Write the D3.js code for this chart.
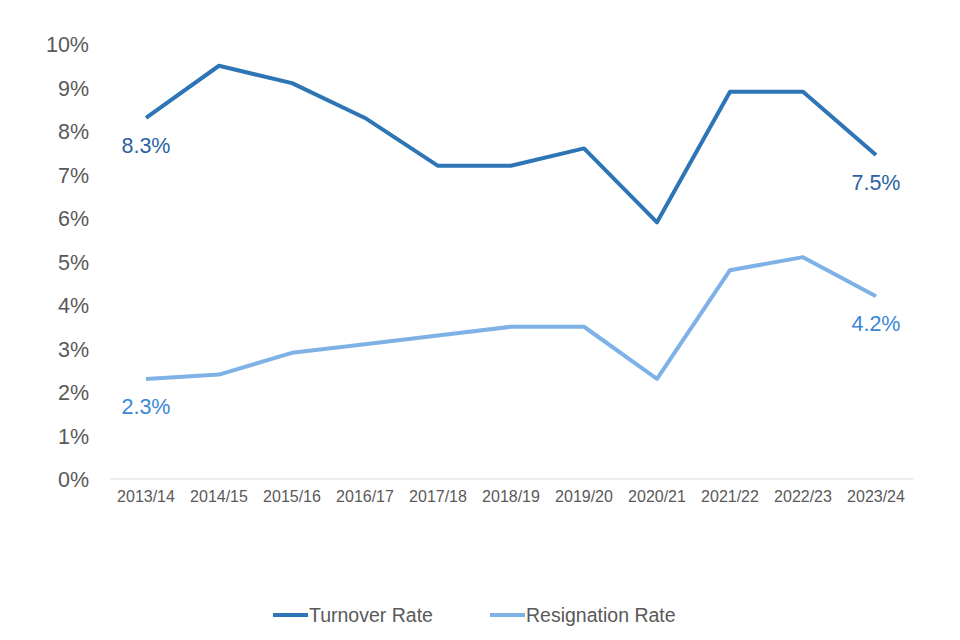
<!DOCTYPE html>
<html><head><meta charset="utf-8">
<script src="https://cdn.jsdelivr.net/npm/d3@7"></script>
<style>body{margin:0;background:#fff;} svg{display:block;}</style>
</head><body>
<svg id="c" width="960" height="640"></svg>
<script>
const categories = ["2013/14","2014/15","2015/16","2016/17","2017/18","2018/19","2019/20","2020/21","2021/22","2022/23","2023/24"];
const turnover = [8.3, 9.5, 9.1, 8.3, 7.2, 7.2, 7.6, 5.9, 8.9, 8.9, 7.45];
const resignation = [2.3, 2.4, 2.9, 3.1, 3.3, 3.5, 3.5, 2.3, 4.8, 5.1, 4.2];
const yTicks = [0,1,2,3,4,5,6,7,8,9,10];
const seriesNames = ["Turnover Rate","Resignation Rate"];

const svg = d3.select("#c");
const font = "'Liberation Sans', Arial, sans-serif";
const x = d3.scaleBand().domain(categories).range([109.5, 912.5]);
const y = d3.scaleLinear().domain([0,10]).range([479, 44]);
const cx = d => x(d) + x.bandwidth()/2;

// y axis labels
const yAxis = d3.axisLeft(y).tickValues(yTicks).tickFormat(d => d + "%").tickSize(0).tickPadding(0);
const gy = svg.append("g").attr("transform","translate(89,0)").call(yAxis);
gy.select(".domain").remove();
gy.selectAll("text").attr("font-family",font).attr("font-size",21.5).attr("fill","#595959").attr("dy","0.35em");

// x axis
const xAxis = d3.axisBottom(x).tickSize(0).tickPadding(12);
const gx = svg.append("g").attr("transform","translate(0,478.5)").call(xAxis);
gx.select(".domain").attr("stroke","#d9d9d9").attr("stroke-width",1.2);
gx.selectAll("text").attr("font-family",font).attr("font-size",16).attr("fill","#595959");

const line = d3.line().x((d,i)=>cx(categories[i])).y(d=>y(d));
const series = [
  {vals: turnover, color:"#2E75B6", label:"#2A62A3"},
  {vals: resignation, color:"#7EB2E6", label:"#3A87D8"}
];
const fmt = d3.format(".1f");
series.forEach(s=>{
  svg.append("path").datum(s.vals).attr("d",line).attr("fill","none")
    .attr("stroke",s.color).attr("stroke-width",4).attr("stroke-linejoin","round");
  [0, s.vals.length-1].forEach(i=>{
    svg.append("text").attr("x",cx(categories[i])).attr("y",y(s.vals[i])+35)
      .attr("text-anchor","middle").attr("font-family",font).attr("font-size",21.5)
      .attr("fill",s.label).text(fmt(s.vals[i])+"%");
  });
});

// legend
const legX = [273, 490];
seriesNames.forEach((n,i)=>{
  svg.append("line").attr("x1",legX[i]).attr("x2",legX[i]+35).attr("y1",615).attr("y2",615)
    .attr("stroke",series[i].color).attr("stroke-width",4);
  svg.append("text").attr("x",legX[i]+36).attr("y",615).attr("dy","0.35em")
    .attr("font-family",font).attr("font-size",19.5).attr("fill","#595959").text(n);
});
</script>
</body></html>
